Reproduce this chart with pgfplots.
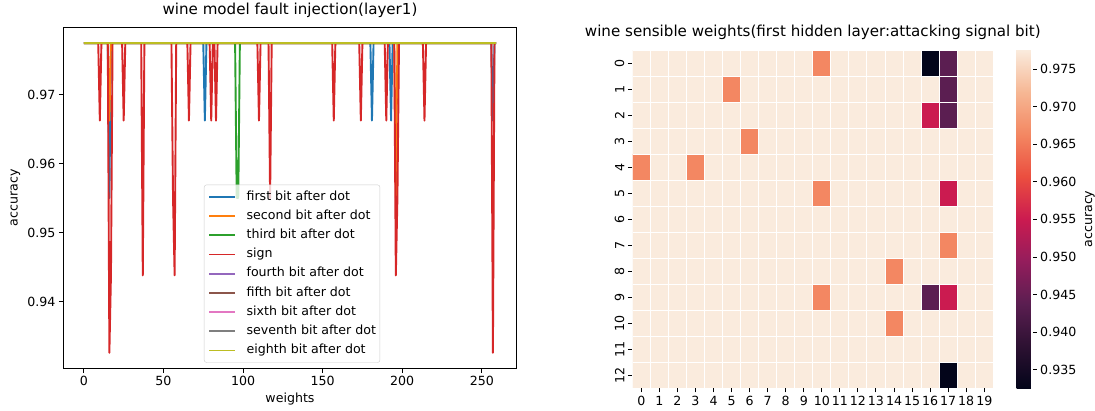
\documentclass[border=0pt]{standalone}
\usepackage{pgfplots}
\pgfplotsset{compat=1.18}
\usepackage{fontspec}
\setmainfont{DejaVu Sans}
\definecolor{c1}{HTML}{1F77B4}
\definecolor{c2}{HTML}{FF7F0E}
\definecolor{c3}{HTML}{2CA02C}
\definecolor{c4}{HTML}{D62728}
\definecolor{c5}{HTML}{9467BD}
\definecolor{c6}{HTML}{8C564B}
\definecolor{c7}{HTML}{E377C2}
\definecolor{c8}{HTML}{7F7F7F}
\definecolor{c9}{HTML}{BCBD22}
\newcommand{\basefont}{\fontsize{12.6bp}{15bp}\selectfont}
\newcommand{\titlefont}{\fontsize{15.1bp}{18bp}\selectfont}
\pgfplotsset{/pgf/number format/assume math mode=true,
  every axis/.append style={font=\basefont}}
\begin{document}
\begin{tikzpicture}[x=1bp,y=1bp]
\useasboundingbox (0,0) rectangle (1095,410);
\begin{axis}[
  at={(63.3bp,41.7bp)}, anchor=south west, scale only axis,
  width=453.4bp, height=340.7bp,
  xmin=-12.95, xmax=271.95, ymin=0.93034, ymax=0.97978,
  xtick={0,50,100,150,200,250},
  ytick={0.94,0.95,0.96,0.97},
  yticklabel style={/pgf/number format/fixed, /pgf/number format/fixed zerofill, /pgf/number format/precision=2},
  scaled y ticks=false,
  tick align=outside, tick pos=left,
  major tick length=4.4bp,
  tick style={black, line width=1bp},
  axis line style={line width=1bp},
  title={wine model fault injection(layer1)},
  title style={font=\titlefont, at={(axis description cs:0.5,1)}, anchor=base, yshift=7.6bp},
  xlabel={weights},
  xlabel style={at={(axis description cs:0.5,0)}, anchor=base, yshift=-33.7bp},
  ylabel={accuracy},
  ylabel style={at={(axis description cs:-0.101,0.5)}, anchor=base},
  legend cell align=left,
  legend style={at={(axis description cs:0.3103,0.0164)}, anchor=south west, draw=black!20, rounded corners=2.5bp, fill=white, fill opacity=0.8, text opacity=1, inner xsep=4bp, inner ysep=5.8bp, row sep=6.7bp, nodes={inner sep=0pt, text height=9.5bp, text depth=3bp}},
  legend image code/.code={\draw[#1, sharp corners, line width=1.9bp] (0bp,0bp) -- (26bp,0bp); \path (36.5bp,0bp);},
  every axis plot/.append style={line width=1.9bp, line join=round},
]
\addplot[c1] coordinates {(0,0.97753) (15,0.97753) (16,0.95506) (17,0.97753) (75,0.97753) (76,0.96629) (77,0.97753) (180,0.97753) (181,0.96629) (182,0.97753) (192,0.97753) (193,0.96629) (194,0.97753) (256,0.97753) (257,0.96629) (258,0.97753) (259,0.97753)};
\addlegendentry{first bit after dot}
\addplot[c2] coordinates {(0,0.97753) (15,0.97753) (16,0.96629) (17,0.97753) (195,0.97753) (196,0.95506) (197,0.97753) (259,0.97753)};
\addlegendentry{second bit after dot}
\addplot[c3] coordinates {(0,0.97753) (95,0.97753) (96,0.95506) (97,0.95506) (98,0.97753) (259,0.97753)};
\addlegendentry{third bit after dot}
\addplot[c4] coordinates {(0,0.97753) (9,0.97753) (10,0.96629) (11,0.97753) (15,0.97753) (16,0.93258) (17,0.94382) (18,0.97753) (24,0.97753) (25,0.96629) (26,0.97753) (36,0.97753) (37,0.94382) (38,0.97753) (55,0.97753) (56,0.95506) (57,0.94382) (58,0.97753) (65,0.97753) (66,0.96629) (67,0.97753) (79,0.97753) (80,0.96629) (81,0.97753) (82,0.97753) (83,0.96629) (84,0.97753) (109,0.97753) (110,0.96629) (111,0.97753) (116,0.97753) (117,0.95506) (118,0.97753) (156,0.97753) (157,0.96629) (158,0.97753) (173,0.97753) (174,0.96629) (175,0.97753) (189,0.97753) (190,0.96629) (191,0.97753) (195,0.97753) (196,0.94382) (197,0.95506) (198,0.97753) (213,0.97753) (214,0.96629) (215,0.97753) (256,0.97753) (257,0.93258) (258,0.97753) (259,0.97753)};
\addlegendentry{sign}
\addplot[c5] coordinates {(0,0.97753) (259,0.97753)};
\addlegendentry{fourth bit after dot}
\addplot[c6] coordinates {(0,0.97753) (259,0.97753)};
\addlegendentry{fifth bit after dot}
\addplot[c7] coordinates {(0,0.97753) (259,0.97753)};
\addlegendentry{sixth bit after dot}
\addplot[c8] coordinates {(0,0.97753) (259,0.97753)};
\addlegendentry{seventh bit after dot}
\addplot[c9] coordinates {(0,0.97753) (259,0.97753)};
\addlegendentry{eighth bit after dot}
\end{axis}

\begin{axis}[
  at={(632.3bp,22bp)}, anchor=south west, scale only axis,
  width=361bp, height=338bp,
  xmin=-0.5, xmax=19.5, ymin=-0.5, ymax=12.5, y dir=reverse,
  enlargelimits=false,
  axis line style={draw=none},
  xtick={0,...,19}, ytick={0,...,12},
  tick align=outside, tick pos=left, major tick length=4.4bp,
  tick style={black, line width=1bp},
  yticklabel style={rotate=90, anchor=south},
  title={wine sensible weights(first hidden layer:attacking signal bit)},
  title style={font=\titlefont, at={(axis description cs:0.5,1)}, anchor=base, yshift=7.6bp},
  colormap={rocket}{rgb255=(3,5,26) rgb255=(45,17,50) rgb255=(91,30,81) rgb255=(148,29,92) rgb255=(203,27,80) rgb255=(235,78,63) rgb255=(243,135,98) rgb255=(246,183,148) rgb255=(250,235,221)},
  point meta min=0.93258, point meta max=0.97753,
  colorbar,
  colorbar shift/.style={xshift=23.4bp},
  colorbar style={
    at={(parent axis.north east)}, anchor=north west,
    width=16bp, scale only axis,
    axis line style={draw=none},
    ytick={0.935,0.94,0.945,0.95,0.955,0.96,0.965,0.97,0.975},
    yticklabel style={/pgf/number format/fixed, /pgf/number format/fixed zerofill, /pgf/number format/precision=3},
    scaled y ticks=false,
    tick align=outside, ytick pos=right, yticklabel pos=right,
    major tick length=4bp, tick style={black, line width=1bp},
    ylabel={accuracy},
    ylabel style={at={(axis description cs:4.706,0.5)}, anchor=base},
  },
]
\addplot[matrix plot, mesh/cols=20, point meta=explicit, draw=white, line width=1bp] coordinates {
(0,0) [0.97753] (1,0) [0.97753] (2,0) [0.97753] (3,0) [0.97753] (4,0) [0.97753] (5,0) [0.97753] (6,0) [0.97753] (7,0) [0.97753] (8,0) [0.97753] (9,0) [0.97753]
(10,0) [0.96629] (11,0) [0.97753] (12,0) [0.97753] (13,0) [0.97753] (14,0) [0.97753] (15,0) [0.97753] (16,0) [0.93258] (17,0) [0.94382] (18,0) [0.97753] (19,0) [0.97753]
(0,1) [0.97753] (1,1) [0.97753] (2,1) [0.97753] (3,1) [0.97753] (4,1) [0.97753] (5,1) [0.96629] (6,1) [0.97753] (7,1) [0.97753] (8,1) [0.97753] (9,1) [0.97753]
(10,1) [0.97753] (11,1) [0.97753] (12,1) [0.97753] (13,1) [0.97753] (14,1) [0.97753] (15,1) [0.97753] (16,1) [0.97753] (17,1) [0.94382] (18,1) [0.97753] (19,1) [0.97753]
(0,2) [0.97753] (1,2) [0.97753] (2,2) [0.97753] (3,2) [0.97753] (4,2) [0.97753] (5,2) [0.97753] (6,2) [0.97753] (7,2) [0.97753] (8,2) [0.97753] (9,2) [0.97753]
(10,2) [0.97753] (11,2) [0.97753] (12,2) [0.97753] (13,2) [0.97753] (14,2) [0.97753] (15,2) [0.97753] (16,2) [0.95506] (17,2) [0.94382] (18,2) [0.97753] (19,2) [0.97753]
(0,3) [0.97753] (1,3) [0.97753] (2,3) [0.97753] (3,3) [0.97753] (4,3) [0.97753] (5,3) [0.97753] (6,3) [0.96629] (7,3) [0.97753] (8,3) [0.97753] (9,3) [0.97753]
(10,3) [0.97753] (11,3) [0.97753] (12,3) [0.97753] (13,3) [0.97753] (14,3) [0.97753] (15,3) [0.97753] (16,3) [0.97753] (17,3) [0.97753] (18,3) [0.97753] (19,3) [0.97753]
(0,4) [0.96629] (1,4) [0.97753] (2,4) [0.97753] (3,4) [0.96629] (4,4) [0.97753] (5,4) [0.97753] (6,4) [0.97753] (7,4) [0.97753] (8,4) [0.97753] (9,4) [0.97753]
(10,4) [0.97753] (11,4) [0.97753] (12,4) [0.97753] (13,4) [0.97753] (14,4) [0.97753] (15,4) [0.97753] (16,4) [0.97753] (17,4) [0.97753] (18,4) [0.97753] (19,4) [0.97753]
(0,5) [0.97753] (1,5) [0.97753] (2,5) [0.97753] (3,5) [0.97753] (4,5) [0.97753] (5,5) [0.97753] (6,5) [0.97753] (7,5) [0.97753] (8,5) [0.97753] (9,5) [0.97753]
(10,5) [0.96629] (11,5) [0.97753] (12,5) [0.97753] (13,5) [0.97753] (14,5) [0.97753] (15,5) [0.97753] (16,5) [0.97753] (17,5) [0.95506] (18,5) [0.97753] (19,5) [0.97753]
(0,6) [0.97753] (1,6) [0.97753] (2,6) [0.97753] (3,6) [0.97753] (4,6) [0.97753] (5,6) [0.97753] (6,6) [0.97753] (7,6) [0.97753] (8,6) [0.97753] (9,6) [0.97753]
(10,6) [0.97753] (11,6) [0.97753] (12,6) [0.97753] (13,6) [0.97753] (14,6) [0.97753] (15,6) [0.97753] (16,6) [0.97753] (17,6) [0.97753] (18,6) [0.97753] (19,6) [0.97753]
(0,7) [0.97753] (1,7) [0.97753] (2,7) [0.97753] (3,7) [0.97753] (4,7) [0.97753] (5,7) [0.97753] (6,7) [0.97753] (7,7) [0.97753] (8,7) [0.97753] (9,7) [0.97753]
(10,7) [0.97753] (11,7) [0.97753] (12,7) [0.97753] (13,7) [0.97753] (14,7) [0.97753] (15,7) [0.97753] (16,7) [0.97753] (17,7) [0.96629] (18,7) [0.97753] (19,7) [0.97753]
(0,8) [0.97753] (1,8) [0.97753] (2,8) [0.97753] (3,8) [0.97753] (4,8) [0.97753] (5,8) [0.97753] (6,8) [0.97753] (7,8) [0.97753] (8,8) [0.97753] (9,8) [0.97753]
(10,8) [0.97753] (11,8) [0.97753] (12,8) [0.97753] (13,8) [0.97753] (14,8) [0.96629] (15,8) [0.97753] (16,8) [0.97753] (17,8) [0.97753] (18,8) [0.97753] (19,8) [0.97753]
(0,9) [0.97753] (1,9) [0.97753] (2,9) [0.97753] (3,9) [0.97753] (4,9) [0.97753] (5,9) [0.97753] (6,9) [0.97753] (7,9) [0.97753] (8,9) [0.97753] (9,9) [0.97753]
(10,9) [0.96629] (11,9) [0.97753] (12,9) [0.97753] (13,9) [0.97753] (14,9) [0.97753] (15,9) [0.97753] (16,9) [0.94382] (17,9) [0.95506] (18,9) [0.97753] (19,9) [0.97753]
(0,10) [0.97753] (1,10) [0.97753] (2,10) [0.97753] (3,10) [0.97753] (4,10) [0.97753] (5,10) [0.97753] (6,10) [0.97753] (7,10) [0.97753] (8,10) [0.97753] (9,10) [0.97753]
(10,10) [0.97753] (11,10) [0.97753] (12,10) [0.97753] (13,10) [0.97753] (14,10) [0.96629] (15,10) [0.97753] (16,10) [0.97753] (17,10) [0.97753] (18,10) [0.97753] (19,10) [0.97753]
(0,11) [0.97753] (1,11) [0.97753] (2,11) [0.97753] (3,11) [0.97753] (4,11) [0.97753] (5,11) [0.97753] (6,11) [0.97753] (7,11) [0.97753] (8,11) [0.97753] (9,11) [0.97753]
(10,11) [0.97753] (11,11) [0.97753] (12,11) [0.97753] (13,11) [0.97753] (14,11) [0.97753] (15,11) [0.97753] (16,11) [0.97753] (17,11) [0.97753] (18,11) [0.97753] (19,11) [0.97753]
(0,12) [0.97753] (1,12) [0.97753] (2,12) [0.97753] (3,12) [0.97753] (4,12) [0.97753] (5,12) [0.97753] (6,12) [0.97753] (7,12) [0.97753] (8,12) [0.97753] (9,12) [0.97753]
(10,12) [0.97753] (11,12) [0.97753] (12,12) [0.97753] (13,12) [0.97753] (14,12) [0.97753] (15,12) [0.97753] (16,12) [0.97753] (17,12) [0.93258] (18,12) [0.97753] (19,12) [0.97753]
};
\end{axis}
\end{tikzpicture}
\end{document}
